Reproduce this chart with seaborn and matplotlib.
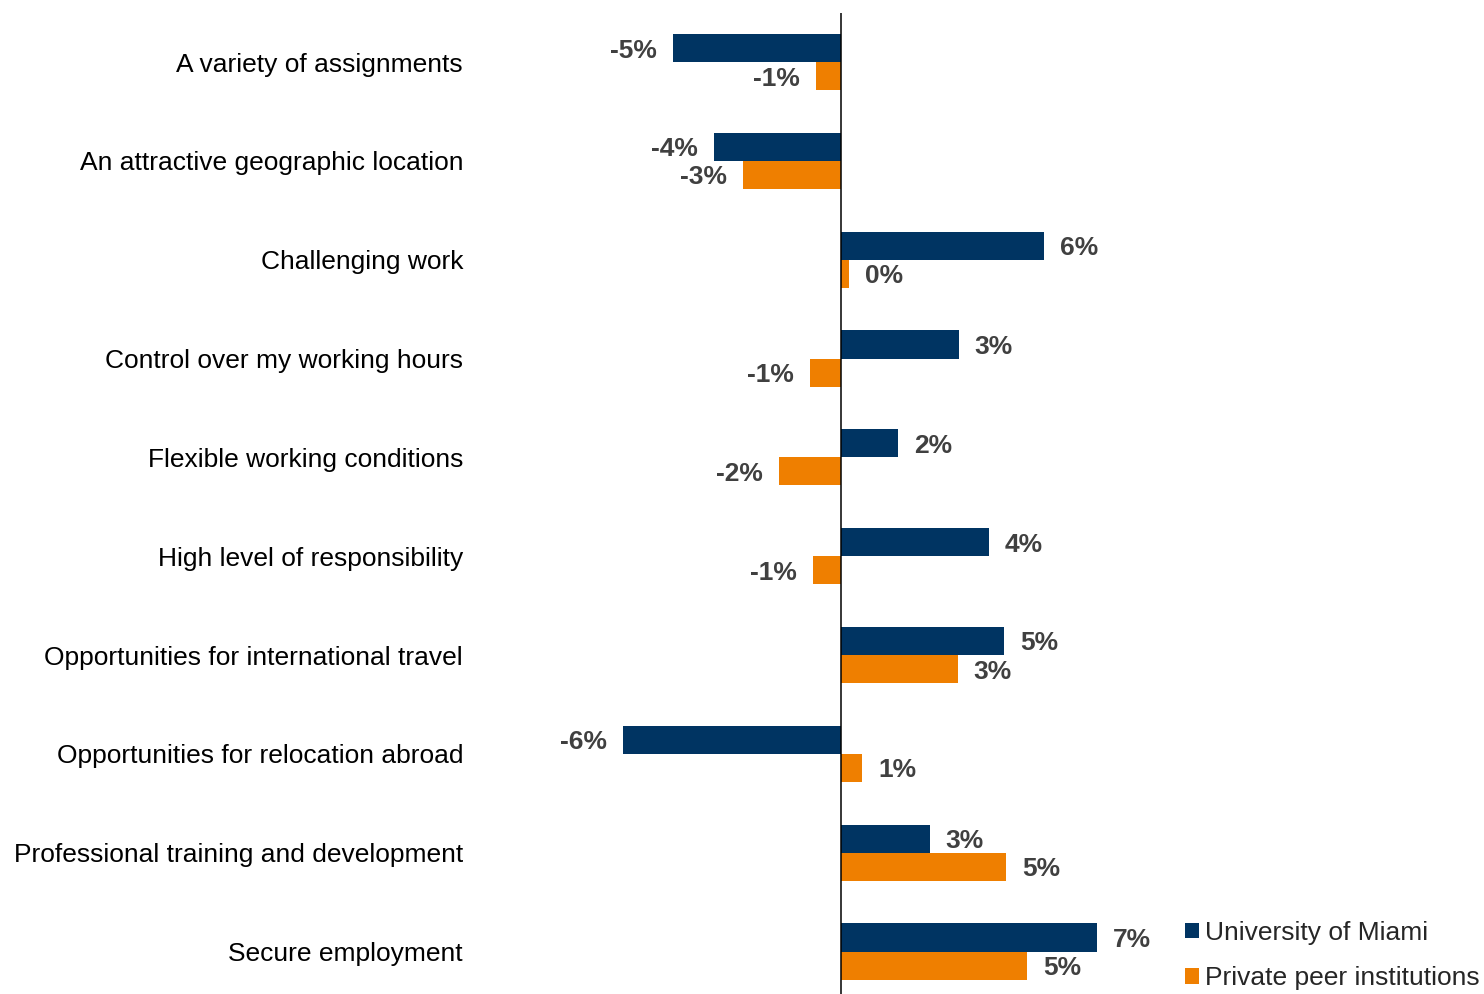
import matplotlib
matplotlib.use("Agg")
import matplotlib.pyplot as plt
import seaborn as sns
import pandas as pd
from matplotlib.patches import Patch

# Change in share of respondents naming each job attribute
categories = [
    "A variety of assignments",
    "An attractive geographic location",
    "Challenging work",
    "Control over my working hours",
    "Flexible working conditions",
    "High level of responsibility",
    "Opportunities for international travel",
    "Opportunities for relocation abroad",
    "Professional training and development",
    "Secure employment",
]
miami = [-4.82, -3.64, 5.78, 3.35, 1.62, 4.21, 4.66, -6.25, 2.53, 7.31]
peers = [-0.72, -2.80, 0.23, -0.89, -1.78, -0.80, 3.33, 0.60, 4.70, 5.31]
series = ["University of Miami", "Private peer institutions"]
colors = ["#003462", "#EF7F00"]

df = pd.DataFrame({
    "category": categories * 2,
    "value": miami + peers,
    "group": [series[0]] * len(categories) + [series[1]] * len(categories),
})

sns.set_style("white")
plt.rcParams["font.family"] = ["Liberation Sans", "DejaVu Sans"]
FS = 19

W, H = 1484, 994
fig = plt.figure(figsize=(W / 100, H / 100), dpi=100)
ax_left, ax_top, ax_bottom = 470, 12.6, 994
ax = fig.add_axes([ax_left / W, 1 - ax_bottom / H, (W - ax_left) / W, (ax_bottom - ax_top) / H])

sns.barplot(
    data=df, y="category", x="value", hue="group", orient="h",
    palette=colors, hue_order=series, order=categories,
    width=0.567, saturation=1, dodge=True, legend=False, ax=ax,
    linewidth=0, edgecolor="none",
)

scale = 35.0  # pixels per percentage point
zero_px = 841.3
ax.set_xlim((ax_left - zero_px) / scale, (W - zero_px) / scale)
ax.set_ylim(9.43, -0.5)

# value labels just beyond the end of each bar
for cont in ax.containers:
    for bar in cont:
        v = bar.get_width()
        yc = bar.get_y() + bar.get_height() / 2
        sign = 1 if v >= 0 else -1
        ax.annotate(f"{v:.0f}%", xy=(v, yc), xytext=(sign * 11.5, 0),
                    textcoords="offset points", ha="left" if v >= 0 else "right",
                    va="center_baseline", fontsize=FS, fontweight="bold",
                    color="#404040")

ax.axvline(0, color="black", lw=1.1)
for s in ax.spines.values():
    s.set_visible(False)
ax.set_xticks([])
ax.set_xlabel("")
ax.set_ylabel("")
ax.tick_params(axis="y", length=0, pad=5, labelsize=FS, labelcolor="black")

handles = [Patch(facecolor=c, edgecolor="none") for c in colors]
fig.legend(handles, series, loc="upper left",
           bbox_to_anchor=(1185 / W, 1 - 921 / H), bbox_transform=fig.transFigure,
           frameon=False, borderpad=0, borderaxespad=0, handlelength=0.53,
           handleheight=0.53, handletextpad=0.24, labelspacing=0.8,
           fontsize=FS)

fig.savefig("out.png", dpi=100)
